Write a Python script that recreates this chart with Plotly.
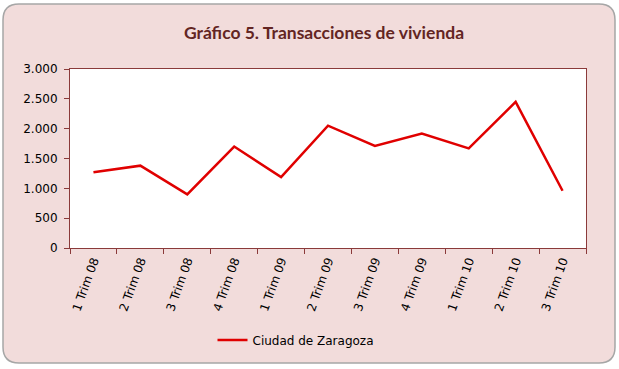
import plotly.graph_objects as go

categories = ["1 Trim 08", "2 Trim 08", "3 Trim 08", "4 Trim 08", "1 Trim 09", "2 Trim 09",
              "3 Trim 09", "4 Trim 09", "1 Trim 10", "2 Trim 10", "3 Trim 10"]
values = [1270, 1380, 900, 1700, 1190, 2050, 1710, 1920, 1670, 2450, 960]
y_ticks = [0, 500, 1000, 1500, 2000, 2500, 3000]
y_tick_labels = ["0", "500", "1.000", "1.500", "2.000", "2.500", "3.000"]
series_name = "Ciudad de Zaragoza"
title = "Gráfico 5. Transacciones de vivienda"

W, H = 619, 369
L, R, T, B = 70, 33, 69, 121
pw, ph = W - L - R, H - T - B

def px(x):
    return (x - L) / pw

def py(y):
    return (H - B - y) / ph

# rounded outer box in pixel coords -> paper coords
x0, y0, x1, y1, r = 3, 4, 615, 363, 16
pts = [
    ("M", [(x0 + r, y0)]),
    ("L", [(x1 - r, y0)]),
    ("Q", [(x1, y0), (x1, y0 + r)]),
    ("L", [(x1, y1 - r)]),
    ("Q", [(x1, y1), (x1 - r, y1)]),
    ("L", [(x0 + r, y1)]),
    ("Q", [(x0, y1), (x0, y1 - r)]),
    ("L", [(x0, y0 + r)]),
    ("Q", [(x0, y0), (x0 + r, y0)]),
]
path = ""
for cmd, cs in pts:
    path += cmd + " " + " ".join(f"{px(a):.5f},{py(b):.5f}" for a, b in cs) + " "
path += "Z"

fig = go.Figure()
fig.add_trace(go.Scatter(
    x=categories, y=values, mode="lines", name=series_name,
    line=dict(color="#E00000", width=2.5),
))

fig.update_layout(
    width=W, height=H,
    margin=dict(l=L, r=R, t=T, b=B),
    paper_bgcolor="white",
    plot_bgcolor="white",
    font=dict(family="DejaVu Sans", size=12, color="#000000"),
    title=dict(text="<b>" + title + "</b>", x=324 / W, xref="container", xanchor="center",
               y=1 - 33 / H, yanchor="middle",
               font=dict(family="Lato", size=17.5, color="#632523")),
    showlegend=True,
    legend=dict(orientation="h", x=296 / W, xanchor="center", xref="container",
                y=1 - 340 / H, yref="container", yanchor="middle",
                font=dict(family="DejaVu Sans", size=12, color="#000000"),
                bgcolor="rgba(0,0,0,0)"),
    shapes=[dict(type="path", path=path, xref="paper", yref="paper",
                 fillcolor="#F2DCDB", line=dict(color="#A6A6A6", width=1.5),
                 layer="below"),
            dict(type="rect", x0=0, x1=1, y0=0, y1=1, xref="paper", yref="paper",
                 fillcolor="white", line=dict(width=0), layer="below")],
)

fig.update_xaxes(
    type="category", range=[-0.5, len(categories) - 0.5],
    tickson="boundaries", ticks="outside", ticklen=5,
    tickcolor="#8B3A3A", showline=True, linecolor="#8B3A3A", linewidth=1,
    mirror=True, tickangle=-70, showgrid=False, zeroline=False,
    tickfont=dict(family="DejaVu Sans", size=12, color="#000000"),
)
fig.update_yaxes(
    range=[0, 3000], tickvals=y_ticks, ticktext=y_tick_labels,
    ticks="outside", ticklen=5, tickcolor="#8B3A3A", showline=True,
    linecolor="#8B3A3A", linewidth=1, mirror=True, showgrid=False, zeroline=False,
    ticklabelstandoff=4,
    tickfont=dict(family="DejaVu Sans", size=12, color="#000000"),
)

fig.write_html("out.html", config={"displayModeBar": False},
               post_script="document.body.style.margin='0';document.body.style.overflow='hidden';")
